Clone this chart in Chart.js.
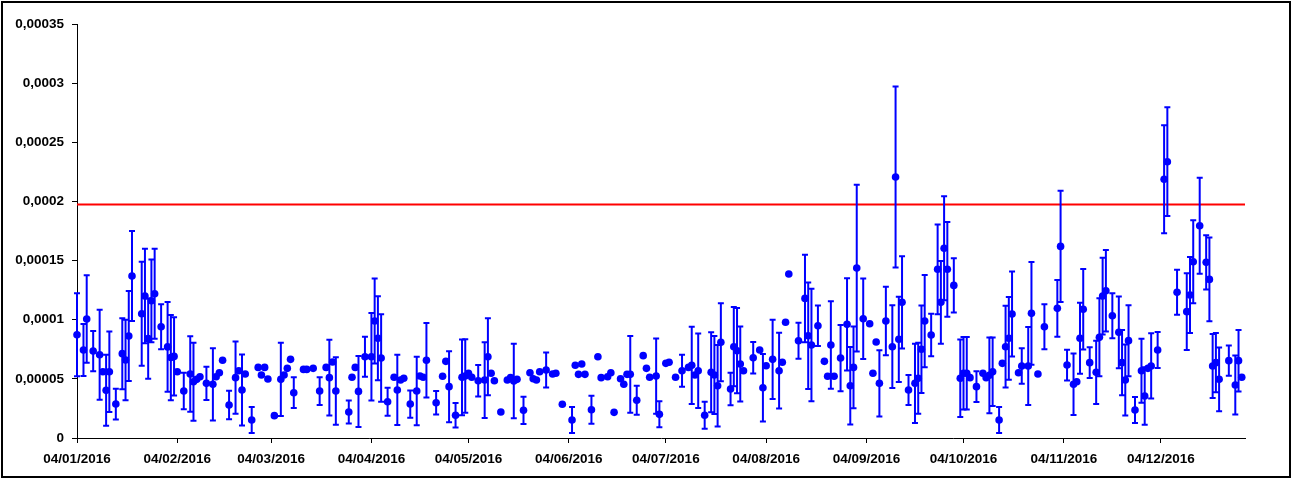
<!DOCTYPE html>
<html>
<head>
<meta charset="utf-8">
<script src="https://cdn.jsdelivr.net/npm/chart.js@4.4.1/dist/chart.umd.min.js"></script>
<style>
  html, body { margin: 0; padding: 0; background: #fff; }
  #frame {
    position: absolute; left: 1px; top: 1px;
    width: 1290px; height: 477px;
    box-sizing: border-box; border: 2px solid #000; background: #fff;
  }
  #chart { display: block; }
</style>
</head>
<body>
<div id="frame"><canvas id="chart" width="1286" height="473"></canvas></div>
<script>
// days since 04/01/2016
const days = [0,2,3,5,7,8,9,10,12,14,15,16,17,20,21,22,23,24,26,28,29,30,31,33,35,36,37,38,40,42,43,44,45,47,49,50,51,52,54,56,57,58,59,61,63,64,65,66,67,70,71,73,75,77,78,79,80,84,85,86,87,89,91,92,93,94,96,98,99,100,101,103,105,106,107,108,111,113,114,115,117,119,120,121,122,124,126,127,128,129,131,133,134,135,136,138,140,141,142,143,145,147,148,150,153,154,155,156,157,159,161,162,164,165,166,168,169,170,171,173,175,176,177,179,180,182,183,185,187,189,190,191,192,194,196,197,198,199,202,203,204,205,206,209,211,212,213,215,217,218,219,220,223,225,226,227,229,231,232,233,234,236,238,239,240,241,243,245,246,247,248,250,252,253,254,255,257,259,260,261,262,264,266,267,268,269,271,273,274,275,276,278,280,281,282,283,285,286,287,288,289,291,292,294,295,297,299,303,304,306,308,309,310,311,313,315,316,317,318,320,322,323,324,325,327,329,330,331,332,334,336,337,340,343,344,345,347,349,350,351,352,353,356,358,359,360];

const values = [8.73e-5,7.44e-5,10.06e-5,7.35e-5,7.04e-5,5.6e-5,4.03e-5,5.6e-5,2.87e-5,7.13e-5,6.6e-5,8.62e-5,13.7e-5,10.5e-5,12.0e-5,8.4e-5,11.6e-5,12.2e-5,9.4e-5,7.7e-5,6.8e-5,6.9e-5,5.6e-5,3.97e-5,5.41e-5,4.76e-5,4.96e-5,5.18e-5,4.62e-5,4.54e-5,5.18e-5,5.52e-5,6.57e-5,2.79e-5,5.1e-5,5.69e-5,4.06e-5,5.41e-5,1.52e-5,5.97e-5,5.33e-5,5.97e-5,4.99e-5,1.89e-5,4.96e-5,5.33e-5,5.89e-5,6.65e-5,3.83e-5,5.8e-5,5.8e-5,5.89e-5,3.97e-5,5.97e-5,5.1e-5,6.42e-5,3.97e-5,2.2e-5,5.13e-5,5.97e-5,3.94e-5,6.87e-5,6.87e-5,9.89e-5,8.43e-5,6.76e-5,3.07e-5,5.13e-5,4.06e-5,4.9e-5,5.05e-5,2.87e-5,3.97e-5,5.24e-5,5.13e-5,6.57e-5,2.98e-5,5.22e-5,6.48e-5,4.34e-5,1.92e-5,5.13e-5,5.24e-5,5.47e-5,5.13e-5,4.84e-5,4.9e-5,6.87e-5,5.47e-5,4.84e-5,2.2e-5,4.9e-5,5.1e-5,4.82e-5,4.96e-5,2.34e-5,5.52e-5,5.01e-5,4.9e-5,5.6e-5,5.75e-5,5.41e-5,5.47e-5,2.85e-5,1.52e-5,6.15e-5,5.38e-5,6.26e-5,5.38e-5,2.39e-5,6.87e-5,5.1e-5,5.18e-5,5.52e-5,2.17e-5,5.01e-5,4.54e-5,5.38e-5,5.38e-5,3.19e-5,6.96e-5,5.89e-5,5.13e-5,5.24e-5,2.0e-5,6.31e-5,6.4e-5,5.13e-5,5.69e-5,5.97e-5,6.14e-5,5.33e-5,5.69e-5,1.92e-5,5.55e-5,5.33e-5,4.42e-5,8.09e-5,4.14e-5,7.72e-5,7.38e-5,6.26e-5,5.69e-5,6.79e-5,7.44e-5,4.25e-5,6.11e-5,6.65e-5,5.69e-5,6.4e-5,9.78e-5,13.86e-5,8.22e-5,11.8e-5,8.65e-5,7.86e-5,9.49e-5,6.48e-5,5.22e-5,7.86e-5,5.22e-5,6.76e-5,9.61e-5,4.42e-5,5.97e-5,14.37e-5,10.08e-5,9.66e-5,5.47e-5,8.11e-5,4.62e-5,9.89e-5,7.72e-5,22.06e-5,8.34e-5,11.47e-5,4.06e-5,4.62e-5,5.05e-5,7.5e-5,9.89e-5,8.71e-5,14.26e-5,11.47e-5,16.04e-5,14.26e-5,12.9e-5,5.05e-5,5.47e-5,5.47e-5,5.1e-5,4.34e-5,5.47e-5,5.1e-5,5.3e-5,5.6e-5,1.52e-5,6.31e-5,7.72e-5,8.43e-5,10.48e-5,5.52e-5,6.09e-5,6.09e-5,10.54e-5,5.41e-5,9.41e-5,10.96e-5,16.2e-5,6.17e-5,4.54e-5,4.76e-5,8.43e-5,10.88e-5,6.37e-5,5.55e-5,8.51e-5,12.0e-5,12.45e-5,10.34e-5,8.93e-5,6.37e-5,4.9e-5,8.23e-5,2.37e-5,5.69e-5,3.55e-5,5.89e-5,6.09e-5,7.44e-5,21.87e-5,23.36e-5,12.32e-5,10.68e-5,12.09e-5,14.9e-5,17.95e-5,14.85e-5,13.41e-5,6.09e-5,6.37e-5,4.96e-5,6.54e-5,4.48e-5,6.54e-5,5.13e-5];

// half-height of each error bar (0 = no bar)
const errors = [3.5e-5,2.2e-5,3.7e-5,1.7e-5,3.8e-5,0,3.0e-5,3.4e-5,1.3e-5,3.0e-5,3.4e-5,3.8e-5,3.8e-5,4.4e-5,4.0e-5,3.4e-5,3.5e-5,3.8e-5,1.9e-5,3.8e-5,3.6e-5,3.3e-5,0,1.55e-5,3.2e-5,3.3e-5,0,0,1.4e-5,3.05e-5,0,0,0,1.2e-5,3.05e-5,0,3.0e-5,0,1.1e-5,0,0,0,0,0,3.1e-5,0,0,0,1.3e-5,0,0,0,1.17e-5,0,3.2e-5,0,2.85e-5,0.97e-5,0,0,3.0e-5,1.7e-5,3.7e-5,3.6e-5,3.55e-5,3.7e-5,1.18e-5,0,2.97e-5,0,0,1.15e-5,2.9e-5,0,0,3.15e-5,1.0e-5,0,0,3.0e-5,1.03e-5,3.2e-5,3.1e-5,0,0,1.33e-5,3.2e-5,3.25e-5,0,0,0,0,0,3.15e-5,0,1.15e-5,0,0,0,0,1.48e-5,0,0,0,1.1e-5,0,0,0,0,1.18e-5,0,0,0,0,0,0,0,0,3.25e-5,1.23e-5,0,0,0,3.18e-5,1.1e-5,0,0,0,1.35e-5,0,3.27e-5,0,3.15e-5,1.14e-5,3.38e-5,3.3e-5,3.45e-5,3.3e-5,1.37e-5,3.35e-5,3.6e-5,3.17e-5,0,1.33e-5,0,2.85e-5,0,3.35e-5,3.2e-5,0,0,0,1.52e-5,3.7e-5,4.5e-5,4.75e-5,1.72e-5,0,0,3.7e-5,0,2.8e-5,3.9e-5,3.27e-5,3.45e-5,7.05e-5,3.4e-5,0,0,0,2.8e-5,2.9e-5,3.5e-5,7.65e-5,3.6e-5,3.9e-5,1.27e-5,3.35e-5,3.0e-5,3.7e-5,3.9e-5,1.8e-5,3.8e-5,3.5e-5,4.4e-5,4.0e-5,2.3e-5,3.27e-5,3.07e-5,3.07e-5,0,1.3e-5,0,0,3.2e-5,2.9e-5,1.1e-5,0,3.45e-5,3.5e-5,3.6e-5,0,1.5e-5,3.3e-5,4.34e-5,0,1.9e-5,2.4e-5,4.7e-5,1.3e-5,2.6e-5,0,3.0e-5,3.4e-5,1.3e-5,2.67e-5,3.3e-5,3.24e-5,3.45e-5,1.9e-5,3.03e-5,2.75e-5,3.0e-5,3.0e-5,1.1e-5,2.7e-5,2.43e-5,0,2.76e-5,1.53e-5,4.56e-5,4.6e-5,1.9e-5,3.24e-5,3.22e-5,3.5e-5,4.06e-5,2.3e-5,3.55e-5,2.7e-5,2.5e-5,2.7e-5,1.27e-5,2.5e-5,2.6e-5,0];

const limitValue = 1.975e-4;
const dayMax = 361;

const xTickDays = [0,31,60,91,121,152,182,213,244,274,305,335];
const xTickLabels = ['04/01/2016','04/02/2016','04/03/2016','04/04/2016','04/05/2016','04/06/2016',
  '04/07/2016','04/08/2016','04/09/2016','04/10/2016','04/11/2016','04/12/2016'];
const yTicks = [0,5e-5,1e-4,1.5e-4,2e-4,2.5e-4,3e-4,3.5e-4];
const yTickLabels = ['0','0,00005','0,0001','0,00015','0,0002','0,00025','0,0003','0,00035'];

const BLUE = '#0000ff';
const font = { family: '"Liberation Sans", Arial, sans-serif', size: 13.5, weight: 'bold' };

// draws the vertical error bars with small caps
const errorBars = {
  id: 'errorBars',
  afterDatasetsDraw(chart) {
    const ctx = chart.ctx;
    const xs = chart.scales.x, ys = chart.scales.y;
    ctx.save();
    ctx.strokeStyle = BLUE;
    ctx.lineWidth = 2;
    days.forEach((d, i) => {
      if (!errors[i]) return;
      const px = xs.getPixelForValue(d);
      const top = ys.getPixelForValue(values[i] + errors[i]);
      const bot = ys.getPixelForValue(values[i] - errors[i]);
      ctx.beginPath();
      ctx.moveTo(px, top); ctx.lineTo(px, bot);
      ctx.moveTo(px - 3, top); ctx.lineTo(px + 3, top);
      ctx.moveTo(px - 3, bot); ctx.lineTo(px + 3, bot);
      ctx.stroke();
    });
    ctx.restore();
  }
};

new Chart(document.getElementById('chart'), {
  type: 'scatter',
  data: {
    datasets: [
      {
        data: days.map((d, i) => ({ x: d, y: values[i] })),
        backgroundColor: BLUE,
        borderWidth: 0,
        pointRadius: 3.8,
        clip: false,
        order: 1
      },
      {
        type: 'line',
        data: [{ x: 0, y: limitValue }, { x: dayMax, y: limitValue }],
        borderColor: '#ff0000',
        borderWidth: 2,
        pointRadius: 0,
        order: 2
      }
    ]
  },
  options: {
    responsive: false,
    animation: false,
    layout: { padding: { top: 21, right: 44, left: 0, bottom: 0 } },
    plugins: { legend: { display: false }, tooltip: { enabled: false } },
    scales: {
      x: {
        type: 'linear',
        min: 0,
        max: dayMax,
        afterBuildTicks: s => { s.ticks = xTickDays.map(v => ({ value: v })); },
        afterFit: s => { s.height = 38; },
        ticks: {
          callback: (v, i) => xTickLabels[i],
          autoSkip: false,
          maxRotation: 0,
          color: '#000',
          font: font,
          padding: 8
        },
        grid: { drawOnChartArea: false, tickLength: 5, color: '#000' },
        border: { color: '#000', width: 1 }
      },
      y: {
        min: 0,
        max: 3.5e-4,
        afterBuildTicks: s => { s.ticks = yTicks.map(v => ({ value: v })); },
        afterFit: s => { s.width = 74; },
        ticks: {
          callback: (v, i) => yTickLabels[i],
          color: '#000',
          font: font,
          padding: 8
        },
        grid: { drawOnChartArea: false, tickLength: 5, color: '#000' },
        border: { color: '#000', width: 1 }
      }
    }
  },
  plugins: [errorBars]
});
</script>
</body>
</html>
